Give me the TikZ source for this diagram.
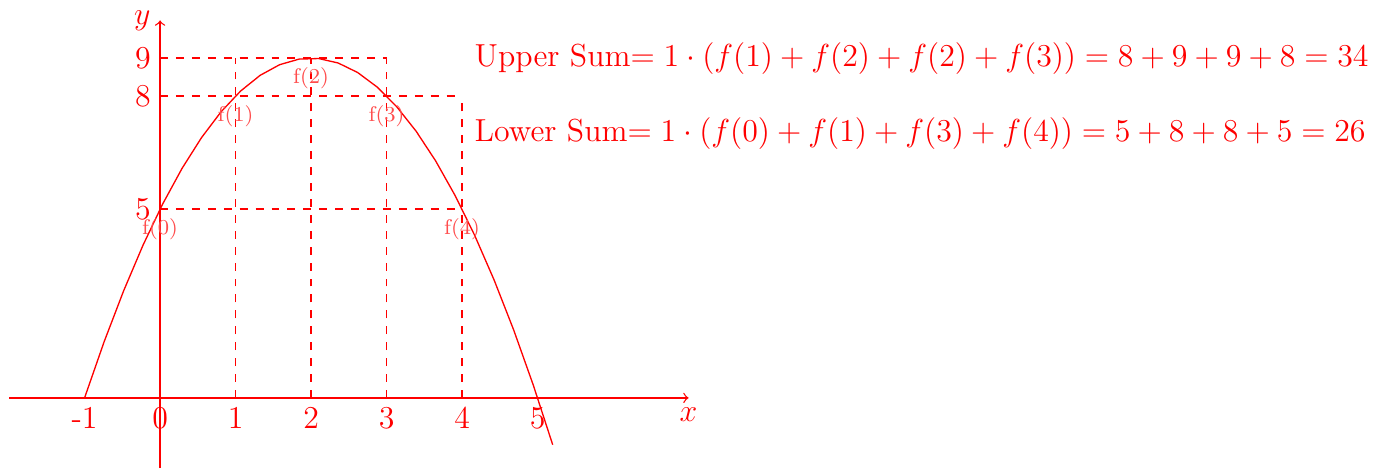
\documentclass[tikz,border=0pt]{standalone}
\definecolor{pured}{RGB}{255,0,0}
\begin{document}
\begin{tikzpicture}[x=1cm,y=0.5cm,color=pured,
  guide/.style={dashed,draw=pured,line width=0.6pt},
  flabel/.style={below,inner sep=3.5pt,text=pured!70,font=\footnotesize},
  ticklbl/.style={font=\large,text=pured},
  axisline/.style={->,draw=pured,line width=0.5pt}]
\useasboundingbox (-2.12,-1.91) rectangle (16.21,10.54);
% points
\coordinate (p0) at (0,5); \coordinate (p1) at (1,8); \coordinate (p2) at (2,9);
\coordinate (p3) at (3,8); \coordinate (p4) at (4,5);
\coordinate (b0) at (0,0); \coordinate (b1) at (1,0); \coordinate (b2) at (2,0);
\coordinate (b3) at (3,0); \coordinate (b4) at (4,0);
\coordinate (t1) at (1,9); \coordinate (t3) at (3,9); \coordinate (a9) at (0,9);
\coordinate (a8) at (0,8); \coordinate (q4) at (4,8);
% guides
\draw[guide] (a9) -- (t3);
\draw[guide] (a8) -- (q4);
\draw[guide] (p0) -- (p4);
\draw[guide] (b0) -- (p0);
\draw[guide] (b1) -- (t1);
\draw[guide] (b2) -- (p2);
\draw[guide] (b3) -- (t3);
\draw[guide] (b4) -- (q4);
% axes
\coordinate (xs) at (-2,0); \coordinate (xe) at (7,0);
\coordinate (ys) at (0,-1.86); \coordinate (ye) at (0,10);
\draw[axisline] (xs) -- (xe) node[below,ticklbl] (xl) {$x$};
\draw[axisline] (ys) -- (ye) node[left,ticklbl] (yl) {$y$};
% curve
\draw[pured,line width=0.5pt] plot[domain=-1:5.2,samples=25] (\x,{5+4*\x-\x*\x});
% tick labels
\node[left,ticklbl] (l9) at (a9) {9};
\node[left,ticklbl] (l8) at (a8) {8};
\node[left,ticklbl] (l5) at (p0) {5};
\foreach \i in {-1,0,1,2,3,4,5}{\node[below,ticklbl] (lx\i) at (\i,0) {\i};}
% f labels
\node[flabel] (f0) at (p0) {f(0)};
\node[flabel] (f1) at (p1) {f(1)};
\node[flabel] (f2) at (p2) {f(2)};
\node[flabel] (f3) at (p3) {f(3)};
\node[flabel] (f4) at (p4) {f(4)};
% sums
\node[anchor=west,ticklbl,inner sep=0pt] (us) at (4.16,9) {Upper Sum$=1\cdot(f(1)+f(2)+f(2)+f(3))=8+9+9+8=34$};
\node[anchor=west,ticklbl,inner sep=0pt] (ls) at (4.16,7) {Lower Sum$=1\cdot(f(0)+f(1)+f(3)+f(4))=5+8+8+5=26$};
\end{tikzpicture}
\end{document}
